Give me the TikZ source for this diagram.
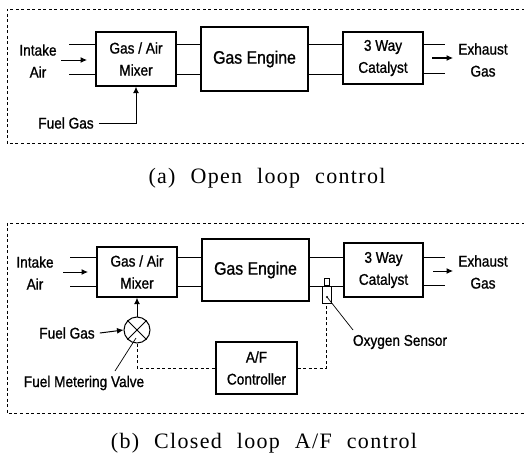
\documentclass[tikz,border=0pt]{standalone}
\usepackage{fontspec}
\setmainfont[FakeStretch=0.88,FakeBold=1]{Liberation Sans}
\newfontfamily\capfont[LetterSpace=6,WordSpace=2.2]{Liberation Serif}
\usetikzlibrary{arrows.meta}
\tikzset{
  lab/.style={font=\fontsize{15.5}{22}\selectfont, align=center, inner sep=0pt},
  blk/.style={draw, line width=1.3pt, font=\fontsize{15.5}{22}\selectfont, align=center, inner sep=0pt},
  pipe/.style={line width=0.9pt},
  arr/.style={line width=1pt, -{Latex[length=6.5pt,width=6pt]}},
  dframe/.style={line width=0.8pt, dash pattern=on 3pt off 2.5pt},
  sig/.style={line width=0.8pt, dash pattern=on 3pt off 2.5pt},
  captxt/.style={font=\capfont\fontsize{22}{24}\selectfont, inner sep=0pt}
}
\begin{document}
\begin{tikzpicture}[x=1pt,y=-1pt]
\useasboundingbox (0,0) rectangle (524,460);
% ---------------- panel (a)
\draw[dframe] (530,9) -- (7,9) -- (7,143) -- (530,143);
\node[blk, minimum width=80, minimum height=54] (mixA) at (136,59) {Gas / Air\\Mixer};
\node[blk, minimum width=107, minimum height=64, font=\fontsize{18}{20}\selectfont] (engA) at (254.5,59) {Gas Engine};
\node[blk, minimum width=80, minimum height=52] (catA) at (383,58) {3 Way\\Catalyst};
\coordinate (pA1) at (69,44);
\coordinate (pA2) at (69,74);
\draw[pipe] (pA1) -- (pA1 -| mixA.west);
\draw[pipe] (pA2) -- (pA2 -| mixA.west);
\draw[pipe] (pA1 -| mixA.east) -- (pA1 -| engA.west);
\draw[pipe] (pA2 -| mixA.east) -- (pA2 -| engA.west);
\draw[pipe] (pA1 -| engA.east) -- (pA1 -| catA.west);
\draw[pipe] (pA2 -| engA.east) -- (pA2 -| catA.west);
\coordinate (eA1) at (445,44);
\coordinate (eA2) at (445,73);
\draw[pipe] (eA1 -| catA.east) -- (eA1);
\draw[pipe] (eA2 -| catA.east) -- (eA2);
\node[lab] (inA) at (38,61) {Intake\\Air};
\coordinate (inAs) at (61,60);
\coordinate (inAe) at (87,60);
\draw[arr] (inAs) -- (inAe);
\node[lab] (exA) at (483,60) {Exhaust\\Gas};
\coordinate (exAs) at (432,58);
\coordinate (exAe) at (453,58);
\draw[arr] (exAs) -- (exAe);
\node[lab] (fuelA) at (66,123) {Fuel Gas};
\draw[arr] ([xshift=5]fuelA.east) -| (mixA.south);
\node[captxt] (capA) at (267,178) {(a) Open loop control};
% ---------------- panel (b)
\draw[dframe] (530,223) -- (7,223) -- (7,413) -- (530,413);
\node[blk, minimum width=80, minimum height=50] (mixB) at (137,272) {Gas / Air\\Mixer};
\node[blk, minimum width=107, minimum height=62, font=\fontsize{18}{20}\selectfont] (engB) at (255.5,270) {Gas Engine};
\node[blk, minimum width=79, minimum height=54] (catB) at (383.5,270) {3 Way\\Catalyst};
\coordinate (pB1) at (70,257);
\coordinate (pB2) at (70,286);
\draw[pipe] (pB1) -- (pB1 -| mixB.west);
\draw[pipe] (pB2) -- (pB2 -| mixB.west);
\draw[pipe] (pB1 -| mixB.east) -- (pB1 -| engB.west);
\draw[pipe] (pB2 -| mixB.east) -- (pB2 -| engB.west);
\draw[pipe] (pB1 -| engB.east) -- (pB1 -| catB.west);
\draw[pipe] (pB2 -| engB.east) -- (pB2 -| catB.west);
\coordinate (eB1) at (445,257);
\coordinate (eB2) at (445,285);
\draw[pipe] (eB1 -| catB.east) -- (eB1);
\draw[pipe] (eB2 -| catB.east) -- (eB2);
\node[lab] (inB) at (35,273) {Intake\\Air};
\coordinate (inBs) at (63,272);
\coordinate (inBe) at (88,272);
\draw[arr] (inBs) -- (inBe);
\node[lab] (exB) at (483,272) {Exhaust\\Gas};
\coordinate (exBs) at (433,271);
\coordinate (exBe) at (453,271);
\draw[arr] (exBs) -- (exBe);
% valve
\node[draw, circle, line width=1pt, minimum size=26, inner sep=0pt] (valve) at (137,330) {};
\draw[line width=0.8pt] (valve.north west) -- (valve.south east);
\draw[line width=0.8pt] (valve.north east) -- (valve.south west);
\draw[arr] (valve.north) -- (mixB.south);
\node[lab] (fuelB) at (67,333) {Fuel Gas};
\draw[arr] ([xshift=5]fuelB.east) -- (valve.west);
\node[lab] (fmv) at (84,383) {Fuel Metering Valve};
\coordinate (fmvp) at (115,371);
\coordinate (valvep) at (136,338);
\draw[line width=0.7pt] (fmvp) -- (valvep);
% controller
\node[blk, minimum width=81, minimum height=52] (afc) at (256.5,368) {A/F\\Controller};
% sensor
\node[draw, line width=0.8pt, minimum width=9, minimum height=17, inner sep=0pt, fill=white] (sens) at (326.5,294.5) {};
\node[draw, line width=0.8pt, minimum width=5, minimum height=7, inner sep=0pt, anchor=south] (senscap) at (sens.north) {};
\fill (327,297) circle (1.2pt);
\coordinate (sdot) at (327,297);
\draw[sig] (valve.south) |- (afc.west);
\draw[sig] (afc.east) -| (sens.south);
\node[lab] (oxy) at (400,342) {Oxygen Sensor};
\coordinate (oxyp) at (353,330);
\draw[line width=0.7pt] (sdot) -- (oxyp);
\node[captxt] (capB) at (264,443) {(b) Closed loop A/F control};
\end{tikzpicture}
\end{document}
